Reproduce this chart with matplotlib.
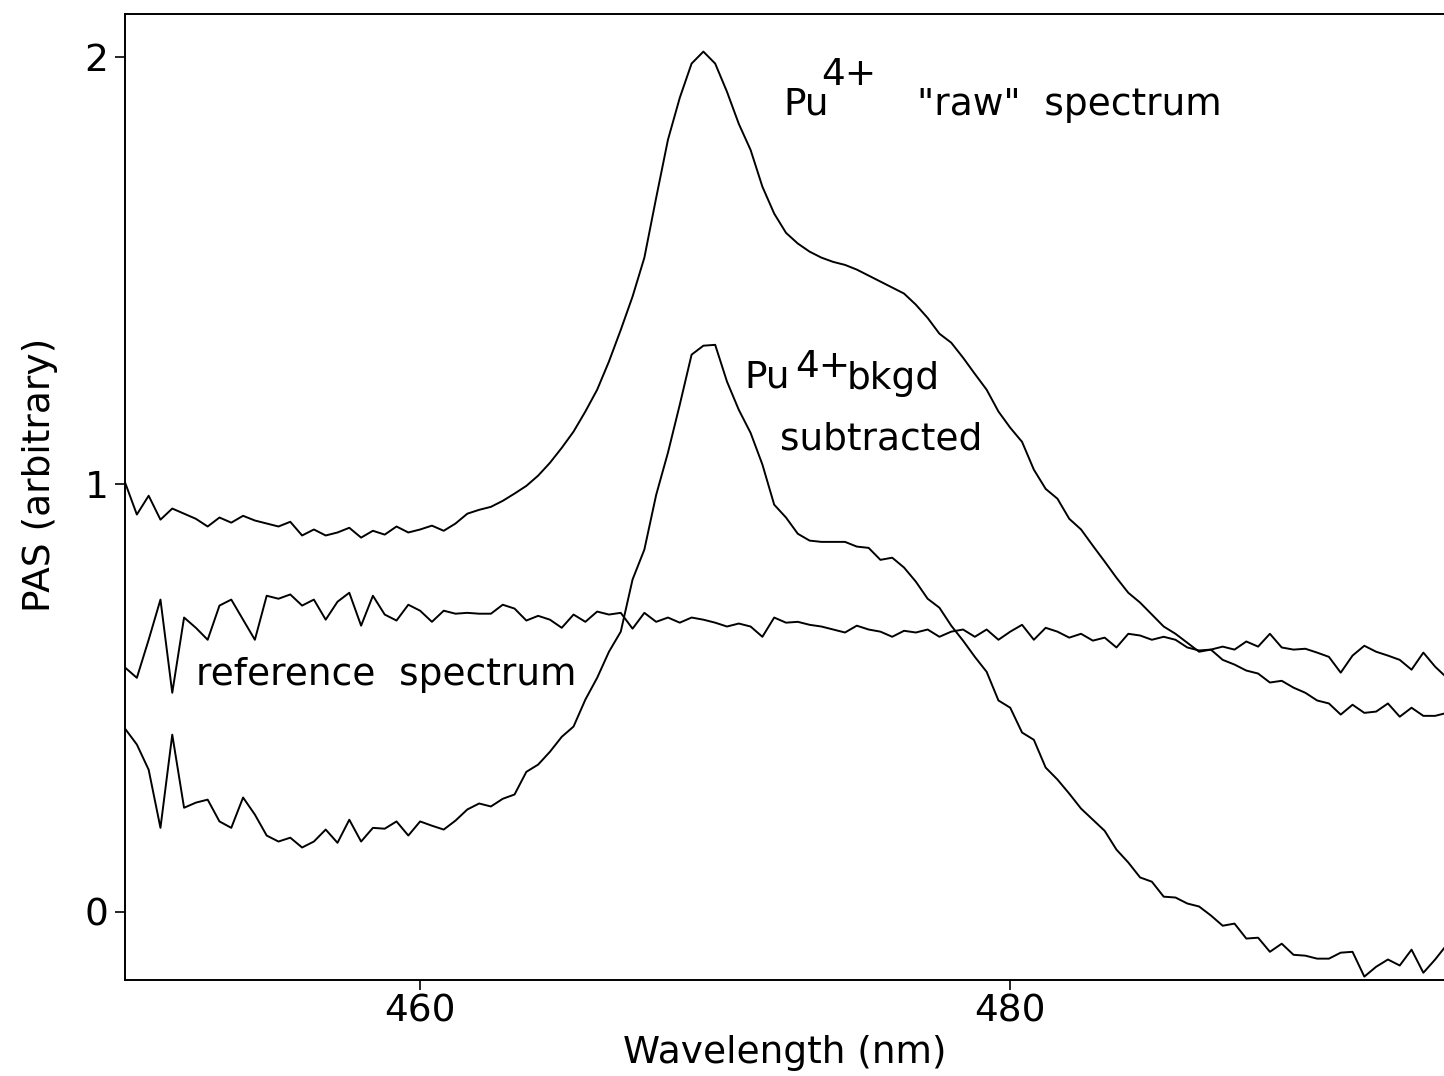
import numpy as np
import matplotlib
matplotlib.use('Agg')
import matplotlib.pyplot as plt

# wavelength grid (nm), 0.4 nm sampling
x_start = 450.0
x_step = 0.4
n_points = 113

raw = [1.004, 0.929, 0.973, 0.917, 0.943, 0.931, 0.919, 0.901, 0.922, 0.910,
       0.926, 0.915, 0.908, 0.901, 0.912, 0.880, 0.894, 0.880, 0.887, 0.898,
       0.875, 0.891, 0.882, 0.901, 0.887, 0.894, 0.903, 0.891, 0.908, 0.931,
       0.940, 0.947, 0.961, 0.978, 0.996, 1.020, 1.050, 1.085, 1.123, 1.170,
       1.221, 1.287, 1.361, 1.439, 1.530, 1.670, 1.806, 1.904, 1.984, 2.012,
       1.984, 1.918, 1.843, 1.782, 1.696, 1.633, 1.588, 1.563, 1.544, 1.530,
       1.520, 1.513, 1.502, 1.488, 1.474, 1.460, 1.446, 1.420, 1.389, 1.352,
       1.331, 1.296, 1.258, 1.221, 1.170, 1.132, 1.099, 1.034, 0.989, 0.966,
       0.919, 0.894, 0.856, 0.819, 0.781, 0.746, 0.723, 0.695, 0.667, 0.650,
       0.629, 0.608, 0.613, 0.589, 0.578, 0.564, 0.557, 0.536, 0.540, 0.524,
       0.512, 0.494, 0.487, 0.461, 0.484, 0.465, 0.468, 0.487, 0.456, 0.477,
       0.458, 0.458, 0.465]

reference = [0.571, 0.547, 0.636, 0.730, 0.512, 0.688, 0.664, 0.636, 0.716, 0.730,
             0.683, 0.636, 0.739, 0.732, 0.742, 0.716, 0.730, 0.683, 0.725, 0.746,
             0.669, 0.739, 0.695, 0.681, 0.718, 0.704, 0.678, 0.704, 0.697, 0.699,
             0.697, 0.697, 0.718, 0.709, 0.681, 0.692, 0.683, 0.664, 0.695, 0.678,
             0.702, 0.695, 0.699, 0.662, 0.699, 0.678, 0.688, 0.676, 0.688, 0.683,
             0.676, 0.667, 0.674, 0.667, 0.643, 0.688, 0.676, 0.678, 0.671, 0.667,
             0.660, 0.653, 0.669, 0.660, 0.655, 0.643, 0.657, 0.653, 0.660, 0.643,
             0.655, 0.660, 0.643, 0.660, 0.636, 0.655, 0.671, 0.636, 0.664, 0.655,
             0.641, 0.650, 0.634, 0.641, 0.618, 0.650, 0.646, 0.636, 0.643, 0.636,
             0.618, 0.611, 0.613, 0.620, 0.613, 0.632, 0.620, 0.650, 0.618, 0.613,
             0.615, 0.606, 0.596, 0.559, 0.599, 0.622, 0.608, 0.599, 0.589, 0.566,
             0.606, 0.573, 0.547]

subtracted = [0.428, 0.391, 0.332, 0.196, 0.414, 0.243, 0.255, 0.262, 0.211, 0.196,
              0.267, 0.227, 0.178, 0.164, 0.173, 0.150, 0.164, 0.192, 0.161, 0.215,
              0.164, 0.196, 0.194, 0.211, 0.178, 0.211, 0.201, 0.192, 0.213, 0.239,
              0.253, 0.246, 0.264, 0.274, 0.327, 0.344, 0.374, 0.409, 0.433, 0.496,
              0.547, 0.608, 0.655, 0.777, 0.847, 0.975, 1.074, 1.186, 1.303, 1.324,
              1.326, 1.240, 1.174, 1.120, 1.046, 0.952, 0.922, 0.884, 0.868, 0.865,
              0.865, 0.865, 0.854, 0.851, 0.823, 0.828, 0.805, 0.772, 0.732, 0.711,
              0.669, 0.634, 0.596, 0.561, 0.494, 0.477, 0.419, 0.402, 0.337, 0.309,
              0.276, 0.241, 0.215, 0.189, 0.145, 0.115, 0.080, 0.070, 0.035, 0.033,
              0.019, 0.012, -0.009, -0.033, -0.028, -0.063, -0.061, -0.094, -0.075, -0.101,
              -0.103, -0.110, -0.110, -0.096, -0.094, -0.152, -0.129, -0.112, -0.126, -0.089,
              -0.143, -0.112, -0.077]

x_ticks = [460, 480]
y_ticks = [0, 1, 2]

wl = x_start + x_step * np.arange(n_points)

plt.rcParams['font.family'] = ['DejaVu Sans']
fs = 27

fig = plt.figure(figsize=(14.44, 10.76), dpi=100)
ax = fig.add_axes([0.0866, 0.0892, 0.9134, 0.8978])

for series in (raw, reference, subtracted):
    ax.plot(wl, series, color='k', linewidth=1.4)

ax.set_xlim(450, 494.7)
ax.set_ylim(-0.16, 2.10)
ax.set_xticks(x_ticks)
ax.set_yticks(y_ticks)
ax.tick_params(direction='out', length=7, width=1.2, labelsize=fs)
ax.tick_params(axis='x', pad=3)
ax.tick_params(axis='y', pad=5)
ax.spines['right'].set_visible(False)
for s in ('left', 'bottom', 'top'):
    ax.spines[s].set_linewidth(1.4)

# curve labels
ax.text(472.3, 1.888, 'Pu', fontsize=fs, va='center', ha='left')
ax.text(473.6, 1.958, '4+', fontsize=fs, va='center', ha='left')
ax.text(476.85, 1.888, '"raw"  spectrum', fontsize=fs, va='center', ha='left')
ax.text(471.0, 1.249, 'Pu', fontsize=fs, va='center', ha='left')
ax.text(472.7, 1.275, '4+', fontsize=fs, va='center', ha='left')
ax.text(474.45, 1.245, 'bkgd', fontsize=fs, va='center', ha='left')
ax.text(472.2, 1.104, 'subtracted', fontsize=fs, va='center', ha='left')
ax.text(452.4, 0.554, 'reference  spectrum', fontsize=fs, va='center', ha='left')

fig.text(785 / 1444, 1 - 1053 / 1076, 'Wavelength (nm)', fontsize=fs,
         ha='center', va='center')
fig.text(40 / 1444, 1 - 475 / 1076, 'PAS (arbitrary)', fontsize=fs,
         ha='center', va='center', rotation=90)

plt.savefig('out.png', dpi=100)
